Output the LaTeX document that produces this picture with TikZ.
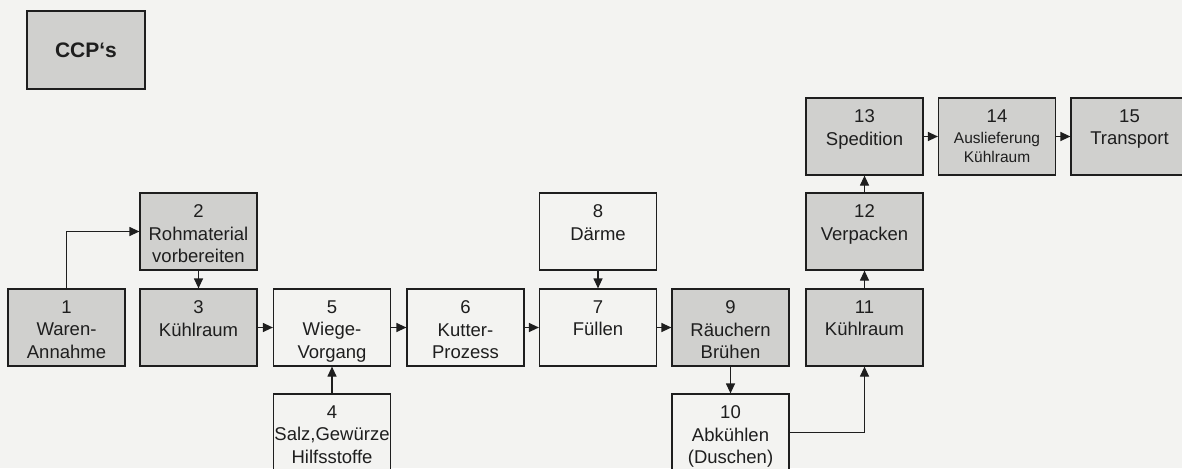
\documentclass[tikz,border=0pt]{standalone}
\usepackage{fontspec}
\setmainfont{Liberation Sans}
\usetikzlibrary{arrows.meta}
\definecolor{paper}{RGB}{243,243,241}
\definecolor{shade}{RGB}{208,208,206}
\definecolor{ink}{RGB}{30,30,30}
\tikzset{
  box/.style={draw=ink, line width=1.2pt, minimum width=117pt, minimum height=77pt, inner sep=0pt},
  cbox/.style={box, fill=shade},
  wbox/.style={box, fill=paper},
  txt/.style={anchor=north, align=center, inner ysep=12pt, inner xsep=0pt, text=ink, font=\fontsize{18.5}{22.5}\selectfont},
  small/.style={font=\fontsize{15.5}{18}\selectfont},
  flow/.style={draw=ink, line width=1.2pt, -{Triangle[length=10pt,width=9pt]}}
}
\begin{document}
\begin{tikzpicture}[x=1pt,y=-1pt]
\useasboundingbox (0,0) rectangle (1182,468);
\fill[paper] (0,0) rectangle (1182,468);

% legend
\node[cbox, minimum width=118pt, minimum height=78pt, text=ink, font=\bfseries\fontsize{21}{25}\selectfont] (ccp) at (86,50) {CCP‘s};

% process steps
\node[cbox, label={[txt]north:{1\\Waren-\\Annahme}}] (b1) at (66.5,327.5) {};
\node[cbox, label={[txt]north:{2\\Rohmaterial\\vorbereiten}}] (b2) at (198.5,231.5) {};
\node[cbox, label={[txt]north:{3\\Kühlraum}}] (b3) at (198.5,327.5) {};
\node[wbox, label={[txt]north:{4\\Salz,Gewürze\\Hilfsstoffe}}] (b4) at (332,432.5) {};
\node[wbox, label={[txt]north:{5\\Wiege-\\Vorgang}}] (b5) at (332,327.5) {};
\node[wbox, label={[txt]north:{6\\Kutter-\\Prozess}}] (b6) at (465.5,327.5) {};
\node[wbox, label={[txt]north:{7\\Füllen}}] (b7) at (598,327.5) {};
\node[wbox, label={[txt]north:{8\\Därme}}] (b8) at (598,231.5) {};
\node[cbox, label={[txt]north:{9\\Räuchern\\Brühen}}] (b9) at (730.5,327.5) {};
\node[wbox, label={[txt]north:{10\\Abkühlen\\(Duschen)}}] (b10) at (730.5,432.5) {};
\node[cbox, label={[txt]north:{11\\Kühlraum}}] (b11) at (864.5,327.5) {};
\node[cbox, label={[txt]north:{12\\Verpacken}}] (b12) at (864.5,231.5) {};
\node[cbox, label={[txt]north:{13\\Spedition}}] (b13) at (864.5,136.5) {};
\node[cbox, label={[txt]north:{14\\[-1pt]\fontsize{15.5}{18}\selectfont Auslieferung\\[-4pt]\fontsize{15.5}{18}\selectfont Kühlraum}}] (b14) at (997,136.5) {};
\node[cbox, label={[txt]north:{15\\Transport}}] (b15) at (1129.5,136.5) {};

% connections
\draw[flow] (b1.north) |- (b2.west);
\draw[flow] (b2) -- (b3);
\draw[flow] (b3) -- (b5);
\draw[flow] (b4) -- (b5);
\draw[flow] (b5) -- (b6);
\draw[flow] (b6) -- (b7);
\draw[flow] (b8) -- (b7);
\draw[flow] (b7) -- (b9);
\draw[flow] (b9) -- (b10);
\draw[flow] (b10.east) -| (b11.south);
\draw[flow] (b11) -- (b12);
\draw[flow] (b12) -- (b13);
\draw[flow] (b13) -- (b14);
\draw[flow] (b14) -- (b15);
\end{tikzpicture}
\end{document}
